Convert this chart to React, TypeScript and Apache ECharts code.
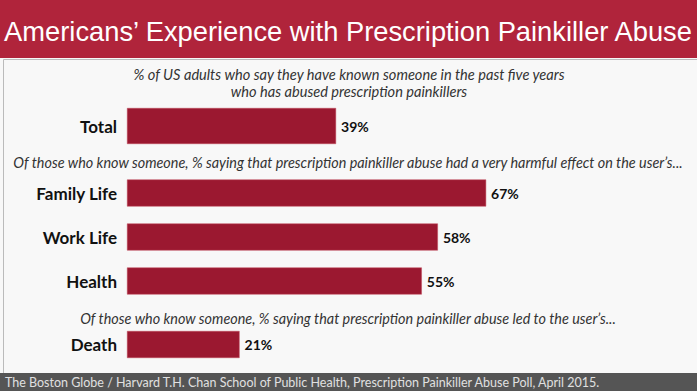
import React, { useEffect, useRef } from "react";
import * as echarts from "echarts";

const titleText = "Americans’ Experience with Prescription Painkiller Abuse";
const subtitle1 = ["% of US adults who say they have known someone in the past five years", "who has abused prescription painkillers"];
const subtitle2 = "Of those who know someone, % saying that prescription painkiller abuse had a very harmful effect on the user’s...";
const subtitle3 = "Of those who know someone, % saying that prescription painkiller abuse led to the user’s...";
const sourceText = "The Boston Globe / Harvard T.H. Chan School of Public Health, Prescription Painkiller Abuse Poll, April 2015.";

const totalCategories = ["Total"];
const totalValues = [39];
const harmCategories = ["Family Life", "Work Life", "Health"];
const harmValues = [67, 58, 55];
const deathCategories = ["Death"];
const deathValues = [21];

const BAR = "#9B1830";
const FONT = "Lato";

export default function App() {
  const ref = useRef<HTMLDivElement>(null);
  useEffect(() => {
    if (!ref.current) return;
    const chart = echarts.init(ref.current, null, { renderer: "svg" });
    const grids = [
      { left: 127, width: 536, top: 108, height: 36 },
      { left: 127, width: 536, top: 171, height: 132 },
      { left: 127, width: 536, top: 331, height: 27 },
    ];
    const cats = [totalCategories, harmCategories, deathCategories];
    const vals = [totalValues, harmValues, deathValues];
    const barWidths = [36, 27, 27];
    chart.setOption({
      animation: false,
      backgroundColor: "#F8F8F8",
      grid: grids,
      xAxis: grids.map((_, i) => ({
        type: "value",
        gridIndex: i,
        min: 0,
        max: 100,
        show: false,
      })),
      yAxis: cats.map((c, i) => ({
        type: "category",
        gridIndex: i,
        data: c,
        inverse: true,
        axisLine: { show: false },
        axisTick: { show: false },
        axisLabel: {
          margin: 10,
          color: "#111",
          fontFamily: FONT,
          fontWeight: "bold",
          fontSize: 17,
        },
      })),
      series: vals.map((v, i) => ({
        type: "bar",
        xAxisIndex: i,
        yAxisIndex: i,
        data: v,
        barWidth: barWidths[i],
        itemStyle: { color: BAR, borderColor: "#C0485A", borderWidth: 0.5 },
        label: {
          show: true,
          position: "right",
          distance: 5,
          formatter: "{c}%",
          color: "#111",
          fontFamily: FONT,
          fontWeight: "bold",
          fontSize: 14,
        },
      })),
      graphic: [
        { type: "rect", left: 1, top: 57, shape: { width: 694, height: 316 }, style: { fill: "none", stroke: "#BBBBBB", lineWidth: 1 } },
        { type: "rect", left: 0, top: 0, shape: { width: 697, height: 58 }, style: { fill: "#B0243B" } },
        {
          type: "text",
          x: 348,
          y: 31,
          style: {
            text: titleText,
            fill: "#FFFFFF",
            font: "27.3px 'Liberation Sans', Arial, sans-serif",
            textAlign: "center",
            textVerticalAlign: "middle",
          },
        },
        {
          type: "text",
          x: 349,
          y: 74,
          style: { text: subtitle1[0], fill: "#333", font: `italic 14.6px ${FONT}`, textAlign: "center", textVerticalAlign: "middle" },
        },
        {
          type: "text",
          x: 349,
          y: 91,
          style: { text: subtitle1[1], fill: "#333", font: `italic 14.6px ${FONT}`, textAlign: "center", textVerticalAlign: "middle" },
        },
        {
          type: "text",
          x: 348,
          y: 162,
          style: { text: subtitle2, fill: "#333", font: `italic 14.4px ${FONT}`, textAlign: "center", textVerticalAlign: "middle" },
        },
        {
          type: "text",
          x: 348,
          y: 318,
          style: { text: subtitle3, fill: "#333", font: `italic 14.4px ${FONT}`, textAlign: "center", textVerticalAlign: "middle" },
        },
        { type: "rect", left: 0, top: 373, shape: { width: 697, height: 18 }, style: { fill: "#555555" } },
        {
          type: "text",
          x: 5,
          y: 382,
          style: { text: sourceText, fill: "#E0E0E0", font: `12.5px ${FONT}`, textAlign: "left", textVerticalAlign: "middle" },
        },
      ],
    });
    return () => chart.dispose();
  }, []);
  return <div ref={ref} style={{ position: "fixed", left: 0, top: 0, width: 697, height: 391 }} />;
}
